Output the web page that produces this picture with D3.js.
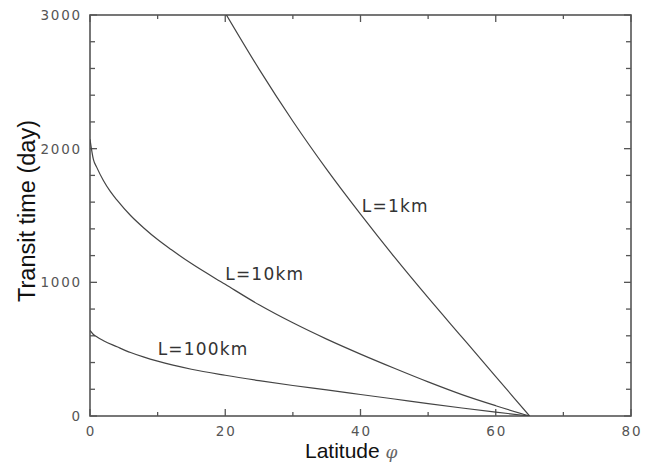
<!DOCTYPE html>
<html>
<head>
<meta charset="utf-8">
<script src="https://cdn.jsdelivr.net/npm/d3@7"></script>
<style>
  body { margin: 0; background: #fff; }
  svg { display: block; }
</style>
</head>
<body>
<div id="chart"></div>
<script>
// curves: latitude (deg) vs transit time (day)
var lat1km = [20, 25, 30, 35, 40, 45, 50, 55, 60, 65];
var val1km = [3015, 2595, 2205, 1845, 1510, 1190, 885, 590, 295, 0];

var lat10km = [0, 0.5, 1, 2, 3, 4, 6, 8, 10, 12, 15, 20, 25, 30, 35, 40, 45, 50, 55, 60, 65];
var val10km = [2070, 1920, 1860, 1760, 1680, 1615, 1500, 1405, 1320, 1245, 1140, 985, 832, 697, 575, 463, 357, 255, 160, 77, 0];

var lat100km = [0, 0.5, 1, 2, 4, 6, 8, 10, 15, 20, 25, 30, 35, 40, 45, 50, 55, 60, 65];
var val100km = [640, 610, 592, 563, 518, 475, 440, 410, 350, 305, 265, 228, 195, 161, 127, 93, 60, 29, 0];

var curveNames = ['L=1km', 'L=10km', 'L=100km'];

var xMajor = [0, 20, 40, 60, 80];
var xMinor = [10, 30, 50, 70];
var yMajor = [0, 1000, 2000, 3000];
var yMinor = [200, 400, 600, 800, 1200, 1400, 1600, 1800, 2200, 2400, 2600, 2800];

var W = 651, H = 466;
var pL = 90, pR = 631, pT = 15, pB = 416;

var x = d3.scaleLinear().domain([0, 80]).range([pL, pR]);
var y = d3.scaleLinear().domain([0, 3000]).range([pB, pT]);

var svg = d3.select('#chart').append('svg')
	.attr('width', W).attr('height', H);

svg.append('defs').append('clipPath').attr('id', 'plot')
	.append('rect')
	.attr('x', pL).attr('y', pT)
	.attr('width', pR - pL).attr('height', pB - pT);

var axisColor = '#555';

// ticks, inward, on all four sides
function tickSet(g, axis, vals, len, scale) {
	g.selectAll(null).data(vals).enter().append('line')
		.attr('x1', function(d) { return axis == 'x' ? scale(d) : 0; })
		.attr('x2', function(d) { return axis == 'x' ? scale(d) : len; })
		.attr('y1', function(d) { return axis == 'x' ? 0 : scale(d); })
		.attr('y2', function(d) { return axis == 'x' ? len : scale(d); })
		.attr('stroke', axisColor).attr('stroke-width', 1.3);
}
var gt = svg.append('g');
tickSet(gt.append('g').attr('transform', 'translate(0,' + pB + ')'), 'x', xMajor, -7, x);
tickSet(gt.append('g').attr('transform', 'translate(0,' + pB + ')'), 'x', xMinor, -4, x);
tickSet(gt.append('g').attr('transform', 'translate(0,' + pT + ')'), 'x', xMajor, 7, x);
tickSet(gt.append('g').attr('transform', 'translate(0,' + pT + ')'), 'x', xMinor, 4, x);
tickSet(gt.append('g').attr('transform', 'translate(' + pL + ',0)'), 'y', yMajor, 7, y);
tickSet(gt.append('g').attr('transform', 'translate(' + pL + ',0)'), 'y', yMinor, 5, y);
tickSet(gt.append('g').attr('transform', 'translate(' + pR + ',0)'), 'y', yMajor, -7, y);
tickSet(gt.append('g').attr('transform', 'translate(' + pR + ',0)'), 'y', yMinor, -5, y);

svg.append('rect')
	.attr('x', pL).attr('y', pT)
	.attr('width', pR - pL).attr('height', pB - pT)
	.attr('fill', 'none').attr('stroke', axisColor).attr('stroke-width', 1.6);

// tick labels
svg.selectAll('.xl').data(xMajor).enter().append('text')
	.attr('class', 'xl')
	.attr('x', function(d) { return x(d) + 1; })
	.attr('y', 436)
	.attr('text-anchor', 'middle')
	.attr('font-family', 'DejaVu Sans').attr('font-size', '13.5px')
	.attr('letter-spacing', '1.8px')
	.attr('fill', '#555')
	.text(function(d) { return d; });

svg.selectAll('.yl').data(yMajor).enter().append('text')
	.attr('class', 'yl')
	.attr('x', 82)
	.attr('y', function(d) { return y(d) + 5; })
	.attr('text-anchor', 'end')
	.attr('font-family', 'DejaVu Sans').attr('font-size', '13.5px')
	.attr('letter-spacing', '1.8px')
	.attr('fill', '#555')
	.text(function(d) { return d; });

// axis titles
var xt = svg.append('text')
	.attr('x', 305).attr('y', 458)
	.attr('font-family', 'Liberation Sans').attr('font-size', '21px')
	.attr('fill', '#111');
xt.append('tspan').text('Latitude ');
xt.append('tspan').attr('font-family', 'DejaVu Serif').attr('font-style', 'italic')
	.attr('font-size', '17px').attr('fill', '#666').text('φ');

svg.append('text')
	.attr('transform', 'translate(35,211) rotate(-90)')
	.attr('text-anchor', 'middle')
	.attr('font-family', 'Liberation Sans').attr('font-size', '23.5px')
	.attr('fill', '#111')
	.text('Transit time (day)');

// curves
var line = d3.line()
	.x(function(d) { return x(d[0]); })
	.y(function(d) { return y(d[1]); })
	.curve(d3.curveMonotoneX);

var series = [
	d3.zip(lat1km, val1km),
	d3.zip(lat10km, val10km),
	d3.zip(lat100km, val100km)
];

svg.append('g').attr('clip-path', 'url(#plot)')
	.selectAll('path').data(series).enter().append('path')
	.attr('d', line)
	.attr('fill', 'none')
	.attr('stroke', '#444')
	.attr('stroke-width', 1.2);

// curve labels
var labelAt = [[40.2, 1526], [20, 1017], [10, 456]];
svg.selectAll('.cl').data(curveNames).enter().append('text')
	.attr('class', 'cl')
	.attr('x', function(d, i) { return x(labelAt[i][0]); })
	.attr('y', function(d, i) { return y(labelAt[i][1]); })
	.attr('font-family', 'DejaVu Sans').attr('font-size', '17px')
	.attr('letter-spacing', '1.2px')
	.attr('fill', '#333')
	.text(function(d) { return d; });
</script>
</body>
</html>
